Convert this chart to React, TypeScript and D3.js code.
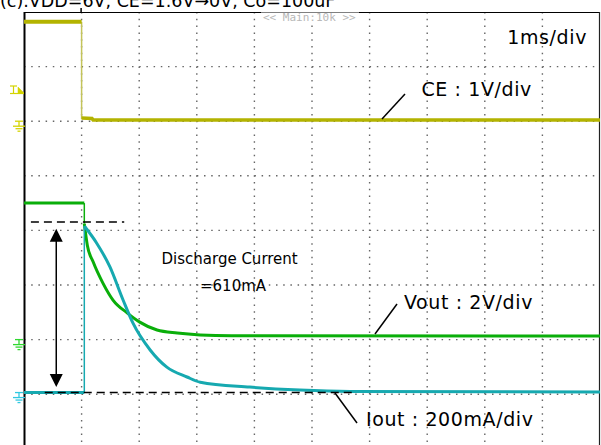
import React from "react";
import * as d3 from "d3";

// ---------- text ----------
const titleText = "(c).VDD=6V, CE=1.6V\u21920V, Co=100uF";
const timebaseLabel = "1ms/div";
const centerLabel = "<< Main:10k >>";
const ceLabel = "CE : 1V/div";
const voutLabel = "Vout : 2V/div";
const ioutLabel = "Iout : 200mA/div";
const noteLines = ["Discharge Current", "=610mA"];

// ---------- axes (time in ms, screen in divisions) ----------
const timeDomain = [-1, 9];
const divDomain = [4, -4];
const gridTimes = [0, 1, 2, 3, 4, 5, 6, 7, 8];
const gridDivs = [3, 2, 1, 0, -1, -2, -3];

// channel settings: ground offset (div), unit per div
const ceOffset = 2.0, cePerDiv = 1;
const voutOffset = -2.0, voutPerDiv = 2;
const ioutOffset = -2.97, ioutPerDiv = 0.2;

// ---------- data: [time ms, value] ----------
const ceHigh: [number, number][] = [[-1, 1.82], [0, 1.82]];
const ceEdge: [number, number][] = [[0, 1.82], [0, 0.04]];
const ceLow: [number, number][] = [[0, 0.06], [0.18, 0.05], [0.2, 0.02], [9, 0.02]];

const voutHigh: [number, number][] = [[-1, 5.0], [0.047, 5.0]];
const voutEdge: [number, number][] = [[0.047, 5.0], [0.047, 4.25]];
const voutDecay: [number, number][] = [
  [0.047, 4.25], [0.1, 3.45], [0.2, 2.85], [0.37, 2.07], [0.545, 1.45],
  [0.79, 0.98], [1.01, 0.64], [1.31, 0.35], [1.66, 0.24], [2.06, 0.17], [2.6, 0.14], [9, 0.13],
];

const ioutLow: [number, number][] = [[-1, 0], [0.047, 0]];
const ioutEdge: [number, number][] = [[0.047, 0], [0.047, 0.61]];
const ioutDecay: [number, number][] = [
  [0.047, 0.61], [0.26, 0.548], [0.49, 0.461], [0.72, 0.339], [0.89, 0.255], [1.19, 0.156],
  [1.48, 0.093], [1.83, 0.057], [2.06, 0.038], [2.92, 0.02], [3.79, 0.009], [4.66, 0.004], [9, 0.002],
];

// annotation levels (A) and extents (ms)
const peakCurrent = 0.625;
const dashTop: [number, number] = [-0.88, 0.74];
const dashBottom: [number, number] = [-0.64, 4.75];
const arrowTime = -0.44;
const arrowRange: [number, number] = [0.6, 0.02];

const W = 601, H = 445;

export default function App() {
  const x = d3.scaleLinear().domain(timeDomain).range([24, 600]);
  const y = d3.scaleLinear().domain(divDomain).range([12, 448.8]);
  const yCE = (v: number) => y(ceOffset + v / cePerDiv);
  const yVo = (v: number) => y(voutOffset + v / voutPerDiv);
  const yIo = (v: number) => y(ioutOffset + v / ioutPerDiv);

  const mk = (fy: (v: number) => number, curve: d3.CurveFactory = d3.curveLinear) =>
    d3.line<[number, number]>().x((d) => x(d[0])).y((d) => fy(d[1])).curve(curve);

  const ceLine = mk(yCE);
  const voLine = mk(yVo);
  const voCurve = mk(yVo, d3.curveMonotoneX);
  const ioLine = mk(yIo);
  const ioCurve = mk(yIo, d3.curveMonotoneX);

  const ceColor = "#b3b300";
  const voColor = "#0aae0a";
  const ioColor = "#16a9b0";

  const font = "'DejaVu Sans', Verdana, sans-serif";

  const ground = (gx: number, gy: number, color: string) => (
    <g stroke={color} strokeWidth={1.3} fill="none">
      <line x1={gx - 4} x2={gx + 4} y1={gy} y2={gy} />
      <line x1={gx} x2={gx} y1={gy} y2={gy + 5} />
      <line x1={gx - 6} x2={gx + 6} y1={gy + 5} y2={gy + 5} />
      <line x1={gx - 3.5} x2={gx + 3.5} y1={gy + 7.5} y2={gy + 7.5} />
      <line x1={gx - 1.5} x2={gx + 1.5} y1={gy + 10} y2={gy + 10} />
    </g>
  );

  const ax = x(arrowTime);
  const aTop = yIo(arrowRange[0]);
  const aBot = yIo(arrowRange[1]);

  return (
    <svg width={W} height={H} style={{ position: "absolute", left: 0, top: 0, background: "#fff" }}>
      <rect x={0} y={0} width={W} height={H} fill="#fff" />
      {/* title (cut off at top, as in the reference) */}
      <text x={0} y={7} fontFamily={font} fontSize={17.5} fill="#000">{titleText}</text>

      {/* grid */}
      <g stroke="#666" strokeWidth={1.4}>
        {gridTimes.map((t) => (
          <line key={"v" + t} x1={x(t)} x2={x(t)} y1={12} y2={H} strokeDasharray="1.5 5.3" />
        ))}
        {gridDivs.map((d) => (
          <line key={"h" + d} x1={24} x2={600} y1={y(d)} y2={y(d)} strokeDasharray="1.5 5.7" />
        ))}
      </g>

      {/* frame */}
      <line x1={24} x2={600} y1={12.5} y2={12.5} stroke="#000" strokeWidth={1} />
      <line x1={24.5} x2={24.5} y1={12} y2={H} stroke="#000" strokeWidth={2} />
      <line x1={599.5} x2={599.5} y1={12} y2={H} stroke="#222" strokeWidth={1.2} />
      <line x1={x(0) - 0.5} x2={x(0) - 0.5} y1={8} y2={12} stroke="#000" strokeWidth={1.5} />

      {/* center label */}
      <rect x={261} y={12.5} width={98} height={10} fill="#fff" />
      <text x={263} y={21} fontFamily="'DejaVu Sans Mono', monospace" fontSize={11} fill="#b8b8b8">{centerLabel}</text>

      {/* CE trace */}
      <path d={ceLine(ceEdge) || ""} stroke="#c4c45a" strokeWidth={1.5} fill="none" />
      <path d={ceLine(ceHigh) || ""} stroke={ceColor} strokeWidth={4} fill="none" />
      <path d={ceLine(ceLow) || ""} stroke={ceColor} strokeWidth={3.5} fill="none" />

      {/* Vout trace */}
      <path d={voLine(voutEdge) || ""} stroke={voColor} strokeWidth={1.5} fill="none" />
      <path d={voLine(voutHigh) || ""} stroke={voColor} strokeWidth={3} fill="none" />
      <path d={voCurve(voutDecay) || ""} stroke={voColor} strokeWidth={3} fill="none" />

      {/* Iout trace */}
      <path d={ioLine(ioutEdge) || ""} stroke={ioColor} strokeWidth={1.5} fill="none" />
      <path d={ioLine(ioutLow) || ""} stroke={ioColor} strokeWidth={3} fill="none" />
      <path d={ioCurve(ioutDecay) || ""} stroke={ioColor} strokeWidth={3} fill="none" />

      {/* trigger marker */}
      <g fill="#d4d400" stroke="#d4d400">
        <line x1={10} x2={24} y1={93.5} y2={93.5} strokeWidth={1.2} />
        <line x1={10} x2={17} y1={86} y2={86} strokeWidth={1.2} />
        <line x1={13.5} x2={13.5} y1={86} y2={93} strokeWidth={1.2} />
        <path d="M18,87 L24,93 L18,93 Z" strokeWidth={0.5} />
      </g>

      {/* ground markers */}
      {ground(19, yCE(0), "#d4d400")}
      {ground(19, yVo(0), "#30d830")}
      {ground(19, yIo(0), "#30c8e0")}

      {/* dashed annotation lines */}
      <line x1={x(dashTop[0])} x2={x(dashTop[1])} y1={yIo(peakCurrent)} y2={yIo(peakCurrent)}
        stroke="#000" strokeWidth={1.5} strokeDasharray="8 5" />
      <line x1={x(dashBottom[0])} x2={x(dashBottom[1])} y1={yIo(0)} y2={yIo(0)}
        stroke="#000" strokeWidth={1.5} strokeDasharray="8 5" />

      {/* double arrow */}
      <line x1={ax} x2={ax} y1={aTop + 10} y2={aBot - 10} stroke="#000" strokeWidth={1.5} />
      <path d={`M${ax},${aTop} L${ax - 6.5},${aTop + 13} L${ax + 6.5},${aTop + 13} Z`} fill="#000" />
      <path d={`M${ax},${aBot} L${ax - 6.5},${aBot - 13} L${ax + 6.5},${aBot - 13} Z`} fill="#000" />

      {/* leader lines */}
      <g stroke="#000" strokeWidth={1.5}>
        <line x1={405} y1={94} x2={382} y2={119} />
        <line x1={397} y1={304} x2={375} y2={334} />
        <line x1={335} y1={393} x2={357} y2={423} />
      </g>

      {/* labels */}
      <g fontFamily={font} fill="#000" fontSize={19} letterSpacing={0.6}>
        <text x={587} y={43.5} textAnchor="end">{timebaseLabel}</text>
        <text x={421.5} y={96}>{ceLabel}</text>
        <text x={404} y={309}>{voutLabel}</text>
        <text x={366} y={425.5}>{ioutLabel}</text>
      </g>
      <g fontFamily={font} fill="#000" fontSize={15}>
        <text x={161.5} y={264}>{noteLines[0]}</text>
        <text x={200} y={291}>{noteLines[1]}</text>
      </g>
    </svg>
  );
}
